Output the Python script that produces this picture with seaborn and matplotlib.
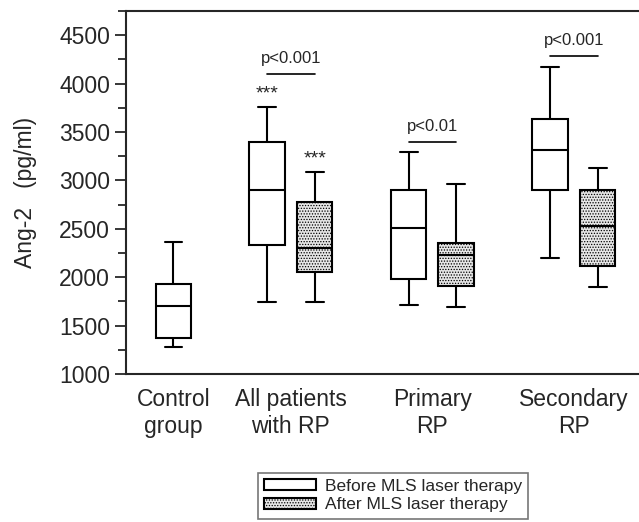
import pandas as pd
import matplotlib.pyplot as plt
import seaborn as sns
from matplotlib.patches import Patch
from matplotlib.ticker import MultipleLocator

# five-number summaries (min, Q1, median, Q3, max)
control = [1282, 1375, 1705, 1926, 2360]
all_before = [1743, 2332, 2900, 3392, 3760]
all_after = [1743, 2056, 2301, 2772, 3089]
prim_before = [1709, 1978, 2504, 2896, 3292]
prim_after = [1695, 1912, 2226, 2356, 2958]
sec_before = [2201, 2896, 3315, 3636, 4172]
sec_after = [1895, 2115, 2531, 2896, 3133]

group_labels = ["Control\ngroup", "All patients\nwith RP", "Primary\nRP", "Secondary\nRP"]
p_labels = ["p<0.001", "p<0.01", "p<0.001"]
phases = ["Before MLS laser therapy", "After MLS laser therapy"]

# layout
group_pos = [0, 0.83, 1.83, 2.83]
off = 0.168

boxes = [
    (group_pos[0], "Before", control),
    (group_pos[1] - off, "Before", all_before),
    (group_pos[1] + off, "After", all_after),
    (group_pos[2] - off, "Before", prim_before),
    (group_pos[2] + off, "After", prim_after),
    (group_pos[3] - off, "Before", sec_before),
    (group_pos[3] + off, "After", sec_after),
]
rows = []
for pos, phase, vals in boxes:
    for v in vals:
        rows.append({"pos": pos, "phase": phase, "value": v})
df = pd.DataFrame(rows)

sns.set_style("ticks")
plt.rcParams["font.family"] = ["Liberation Sans", "DejaVu Sans"]
plt.rcParams["hatch.linewidth"] = 0.6

fig = plt.figure(figsize=(6.39, 5.22), dpi=100)
ax = fig.add_axes([0.197, 0.2835, 0.803, 0.6955])

sns.boxplot(data=df, x="pos", y="value", hue="phase", native_scale=True, dodge=False,
            palette={"Before": "white", "After": "#e6e6e6"}, linecolor="black",
            linewidth=1.5, width=0.747, whis=(0, 100), legend=False, ax=ax)

for p in ax.patches:
    fc = p.get_facecolor()
    if fc[0] < 0.99:
        p.set_hatch("......")
        p.set_edgecolor("black")

ax.set_xlim(-0.336, 3.29)
ax.set_ylim(1000, 4750)
ax.yaxis.set_major_locator(MultipleLocator(500))
ax.yaxis.set_minor_locator(MultipleLocator(250))
ax.set_yticks(range(1000, 5000, 500))
ax.tick_params(axis="y", which="major", length=8, width=1.3, labelsize=16.5)
ax.tick_params(axis="y", which="minor", length=6, width=1.3)
ax.set_xticks(group_pos)
ax.set_xticklabels(group_labels, fontsize=16.5)
ax.tick_params(axis="x", length=0, pad=10)
ax.set_xlabel("")
ax.set_ylabel("Ang-2   (pg/ml)", fontsize=16.5, labelpad=16)
for s in ["left", "bottom", "top"]:
    ax.spines[s].set_linewidth(1.5)
ax.spines["right"].set_visible(False)

# significance stars
ax.text(group_pos[1] - off, 3800, "***", ha="center", va="bottom", fontsize=14)
ax.text(group_pos[1] + off, 3130, "***", ha="center", va="bottom", fontsize=14)

# p-value brackets
line_y = [4097, 3398, 4283]
for i, (g, lbl, ly) in enumerate(zip(group_pos[1:], p_labels, line_y)):
    ax.plot([g - off, g + off], [ly, ly], color="black", lw=1.2)
    ax.text(g, ly + 80, lbl, ha="center", va="bottom", fontsize=12)

handles = [Patch(facecolor="white", edgecolor="black", lw=1.5, label=phases[0]),
           Patch(facecolor="#e6e6e6", edgecolor="black", lw=1.5, hatch="......", label=phases[1])]
leg = fig.legend(handles=handles, loc="lower center", bbox_to_anchor=(0.615, -0.01),
                 fontsize=12.5, frameon=True, fancybox=False, edgecolor="#555555",
                 handlelength=3.0, handleheight=0.6, handletextpad=0.5,
                 labelspacing=0.2, borderpad=0.35)
leg.get_frame().set_linewidth(1.2)

fig.savefig("out.png", dpi=100)
